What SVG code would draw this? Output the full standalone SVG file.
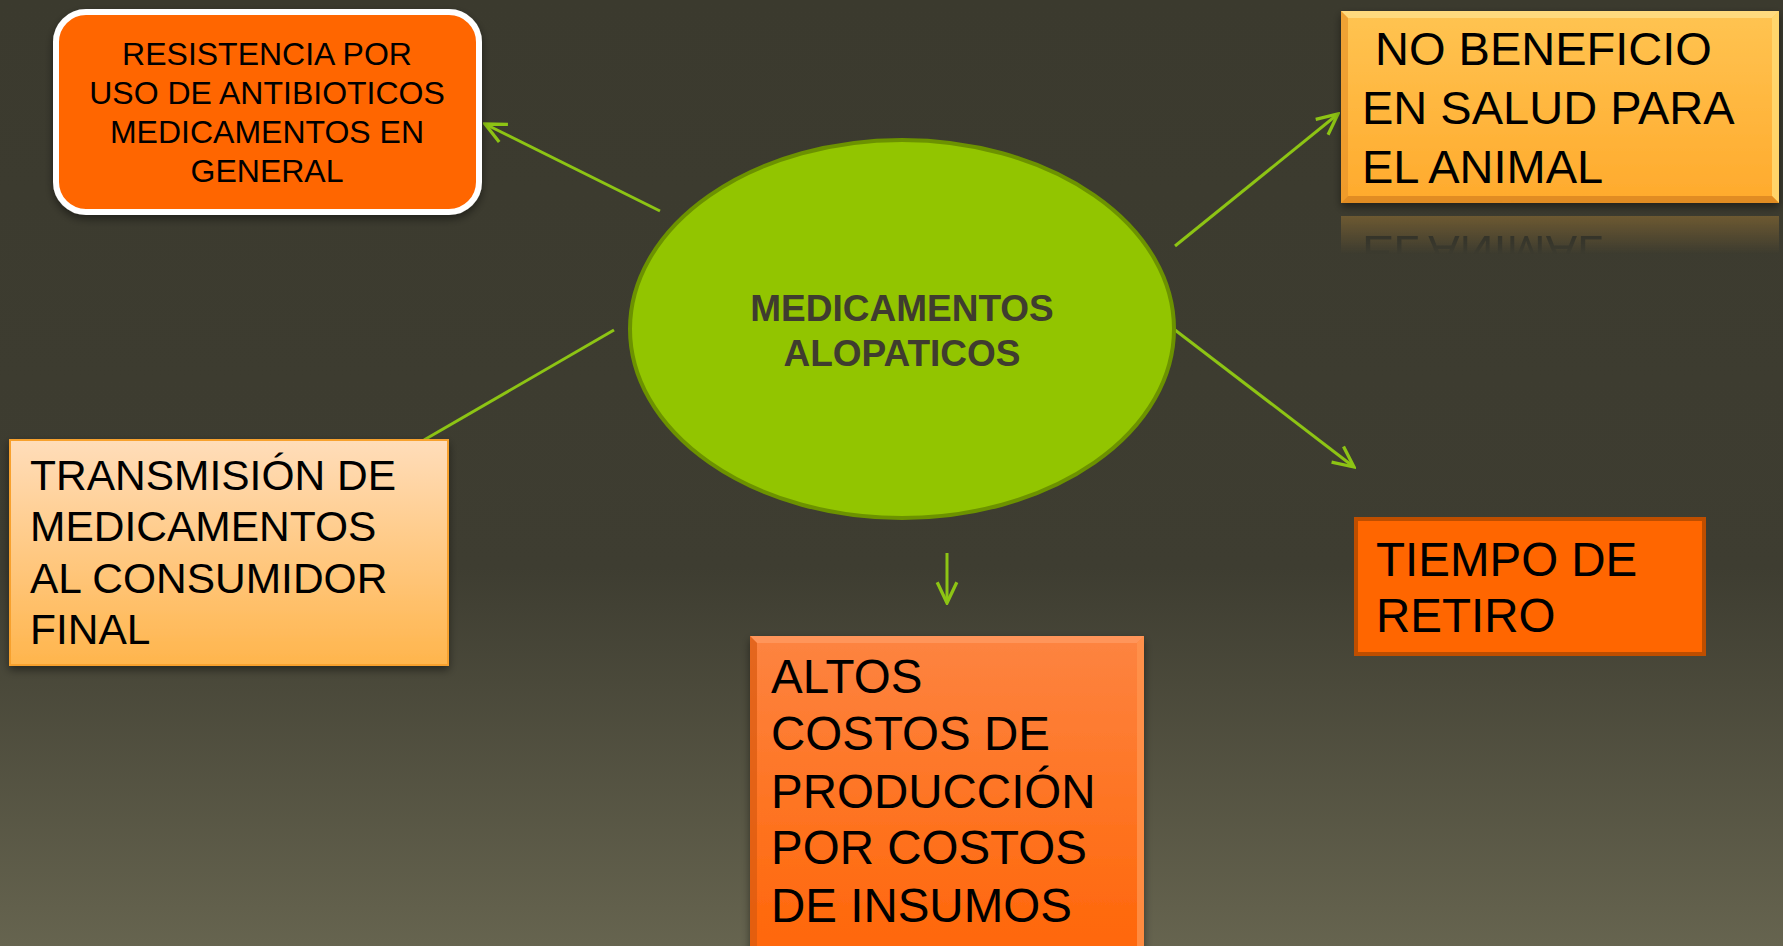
<svg xmlns="http://www.w3.org/2000/svg" width="1783" height="946" viewBox="0 0 1783 946">
<style>
.t{font-family:"Liberation Sans",Arial,sans-serif;fill:#000}
.conn{stroke:#8DC414;stroke-width:3;fill:none}
</style>
<defs>
<linearGradient id="bg" x1="0" y1="0" x2="0" y2="1">
<stop offset="0" stop-color="#3B3A2E"/>
<stop offset="0.6" stop-color="#3E3D31"/>
<stop offset="1" stop-color="#66644F"/>
</linearGradient>
<linearGradient id="gYel" x1="0" y1="0" x2="0" y2="1">
<stop offset="0" stop-color="#FFC452"/>
<stop offset="1" stop-color="#FFAA2C"/>
</linearGradient>
<linearGradient id="gPeach" x1="0" y1="0" x2="0" y2="1">
<stop offset="0" stop-color="#FFDDBA"/>
<stop offset="1" stop-color="#FFB54C"/>
</linearGradient>
<linearGradient id="gOr" x1="0" y1="0" x2="0" y2="1">
<stop offset="0" stop-color="#FD8441"/>
<stop offset="1" stop-color="#FF6608"/>
</linearGradient>
<linearGradient id="fade" x1="0" y1="0" x2="0" y2="1">
<stop offset="0" stop-color="#fff" stop-opacity="0.28"/>
<stop offset="1" stop-color="#fff" stop-opacity="0"/>
</linearGradient>
<mask id="refMask" maskUnits="userSpaceOnUse" x="1330" y="210" width="460" height="50">
<rect x="1330" y="212" width="460" height="42" fill="url(#fade)"/>
</mask>
<filter id="sh" x="-10%" y="-10%" width="120%" height="130%">
<feDropShadow dx="0" dy="4" stdDeviation="4" flood-color="#000" flood-opacity="0.45"/>
</filter>
<marker id="arr" markerUnits="userSpaceOnUse" markerWidth="24" markerHeight="24" viewBox="0 0 22 22" refX="20" refY="11" orient="auto">
<path d="M1,2 L20,11 L1,20" fill="none" stroke="#8DC414" stroke-width="3"/>
</marker>
</defs>
<rect x="0" y="0" width="1783" height="946" fill="url(#bg)"/>

<g id="connectors">
<line class="conn" x1="660" y1="211" x2="485" y2="124" marker-end="url(#arr)"/>
<line class="conn" x1="1175" y1="246" x2="1338" y2="114" marker-end="url(#arr)"/>
<line class="conn" x1="614" y1="330" x2="424" y2="440"/>
<line class="conn" x1="1175" y1="330" x2="1354" y2="467" marker-end="url(#arr)"/>
<line class="conn" x1="947" y1="553" x2="947" y2="603" marker-end="url(#arr)"/>
</g>

<g id="node-resistencia">
<rect x="56" y="12" width="423" height="200" rx="30" fill="#FF6600" stroke="#FFFFFF" stroke-width="6" filter="url(#sh)"/>
<g class="t" font-size="32" text-anchor="middle">
<text x="267" y="65">RESISTENCIA POR</text>
<text x="267" y="104">USO DE ANTIBIOTICOS</text>
<text x="267" y="143">MEDICAMENTOS EN</text>
<text x="267" y="182">GENERAL</text>
</g>
</g>

<g id="node-center">
<ellipse cx="902" cy="329" rx="272" ry="189" fill="#92C500" stroke="#6C9200" stroke-width="4"/>
<g class="t" font-size="37" font-weight="bold" text-anchor="middle" style="fill:#3F3C2F">
<text x="902" y="321">MEDICAMENTOS</text>
<text x="902" y="366">ALOPATICOS</text>
</g>
</g>

<g id="node-nobeneficio">
<g mask="url(#refMask)">
<g transform="translate(0,419) scale(1,-1)">
<rect x="1341" y="11" width="438" height="192" fill="#FFB33A"/>
<text class="t" x="1362" y="183" font-size="47">EL ANIMAL</text>
</g>
</g>
<rect x="1341" y="11" width="438" height="192" fill="url(#gYel)" filter="url(#sh)"/>
<path d="M1341,11 H1779 L1772,18 H1348 Z" fill="#FFE08A" opacity="0.8"/>
<path d="M1779,11 V203 L1772,196 V18 Z" fill="#FFD870" opacity="0.9"/>
<path d="M1341,11 V203 L1348,196 V18 Z" fill="#E8942A" opacity="0.7"/>
<path d="M1341,203 H1779 L1772,196 H1348 Z" fill="#D98520" opacity="0.8"/>
<g class="t" font-size="47">
<text x="1375" y="65">NO BENEFICIO</text>
<text x="1362" y="124">EN SALUD PARA</text>
<text x="1362" y="183">EL ANIMAL</text>
</g>
</g>

<g id="node-transmision">
<rect x="10" y="440" width="438" height="225" fill="url(#gPeach)" stroke="#F7A12F" stroke-width="2" filter="url(#sh)"/>
<g class="t" font-size="42.5">
<text x="30" y="490">TRANSMISIÓN DE</text>
<text x="30" y="541">MEDICAMENTOS</text>
<text x="30" y="593">AL CONSUMIDOR</text>
<text x="30" y="644">FINAL</text>
</g>
</g>

<g id="node-altos">
<rect x="750" y="636" width="394" height="320" fill="url(#gOr)" filter="url(#sh)"/>
<path d="M750,636 H1144 L1137,643 H757 Z" fill="#FF9A60" opacity="0.8"/>
<path d="M1144,636 V956 L1137,949 V643 Z" fill="#FF944E" opacity="0.8"/>
<path d="M750,636 V956 L757,949 V643 Z" fill="#D95A10" opacity="0.7"/>
<g class="t" font-size="47.5">
<text x="771" y="693">ALTOS</text>
<text x="771" y="750">COSTOS DE</text>
<text x="771" y="808">PRODUCCIÓN</text>
<text x="771" y="864">POR COSTOS</text>
<text x="771" y="922">DE INSUMOS</text>
</g>
</g>

<g id="node-tiempo">
<rect x="1356" y="519" width="348" height="135" fill="#FF6600" stroke="#BE4E00" stroke-width="4"/>
<g class="t" font-size="47.5">
<text x="1376" y="576">TIEMPO DE</text>
<text x="1376" y="632">RETIRO</text>
</g>
</g>
</svg>
